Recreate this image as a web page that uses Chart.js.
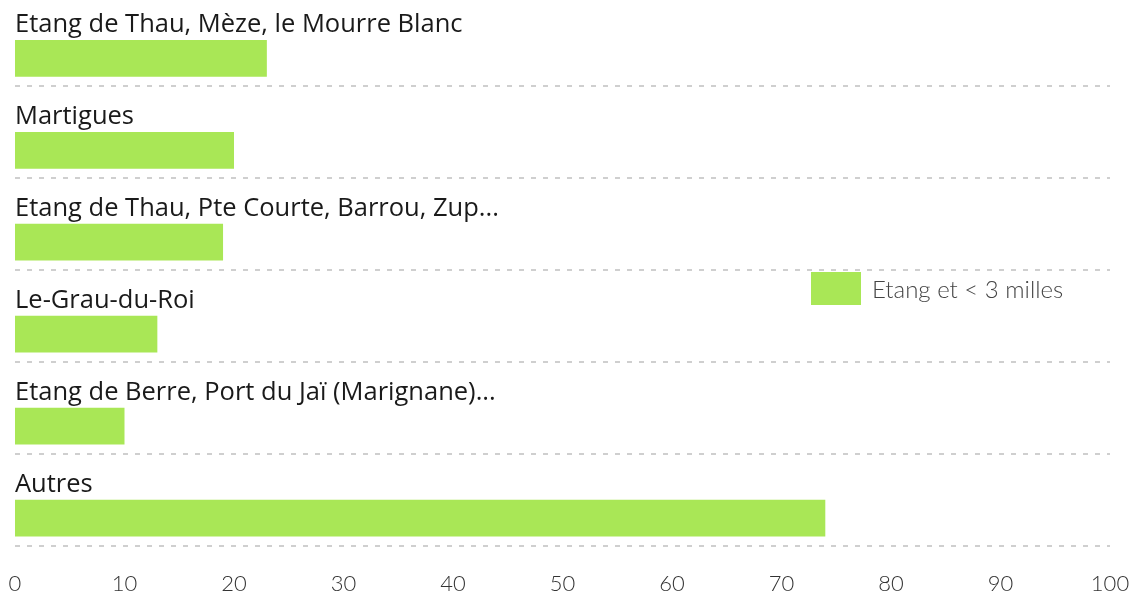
<!DOCTYPE html>
<html>
<head>
<meta charset="utf-8">
<script src="https://cdn.jsdelivr.net/npm/chart.js@4.4.0/dist/chart.umd.js"></script>
<style>
  html, body { margin: 0; padding: 0; background: #fff; overflow: hidden; }
  #wrap { width: 1130px; height: 595px; overflow: hidden; position: relative; }
  /* la bande du haut commence au-dessus du cadre */
  #chart { position: absolute; left: 0; top: -6px; }
</style>
</head>
<body>
<div id="wrap"><canvas id="chart" width="1130" height="603"></canvas></div>
<script>
// Données
const categories = [
  'Etang de Thau, Mèze, le Mourre Blanc',
  'Martigues',
  'Etang de Thau, Pte Courte, Barrou, Zup...',
  'Le-Grau-du-Roi',
  'Etang de Berre, Port du Jaï (Marignane)...',
  'Autres'
]
const seriesLabel = 'Etang et < 3 milles'
const seriesValues = [23, 20, 19, 13, 10, 74]
const spacerValues = [null, null, null, null, null, null]
const xTicks = [0, 10, 20, 30, 40, 50, 60, 70, 80, 90, 100]

const barColor = '#a9e756'
const labelFont = '"Open Sans", "Noto Sans", sans-serif'
const lightFont = 'Lato, "Open Sans", sans-serif'

// Pas de marge automatique autour des axes : on place la zone à la main
function noAutoPadding(axis) {
  axis.paddingLeft = 0
  axis.paddingRight = 0
  axis.paddingTop = 0
  axis.paddingBottom = 0
}

// Légende dessinée à la main (position libre au milieu à droite)
const sideLegend = {
  id: 'sideLegend',
  afterDatasetsDraw(chart) {
    const { ctx, chartArea } = chart
    const ds = chart.data.datasets[1]
    const x = chartArea.right - 299
    const yMid = chartArea.top + 295
    ctx.save()
    ctx.fillStyle = ds.backgroundColor
    ctx.fillRect(x, yMid - 17, 50, 33)
    ctx.fillStyle = '#444'
    ctx.font = '300 24px ' + lightFont
    ctx.textAlign = 'left'
    ctx.textBaseline = 'middle'
    ctx.fillText(ds.label, x + 61, yMid + 1)
    ctx.restore()
  }
}

new Chart(document.getElementById('chart'), {
  type: 'bar',
  data: {
    labels: categories,
    datasets: [
      { label: '', data: spacerValues, backgroundColor: 'transparent' },
      { label: seriesLabel, data: seriesValues, backgroundColor: barColor, borderWidth: 0 }
    ]
  },
  options: {
    indexAxis: 'y',
    responsive: false,
    animation: false,
    layout: { padding: { top: 0, left: 15, right: 20, bottom: 0 } },
    datasets: {
      bar: { categoryPercentage: 0.8, barPercentage: 1 }
    },
    plugins: {
      legend: { display: false },
      tooltip: { enabled: false }
    },
    scales: {
      x: {
        min: 0,
        max: 100,
        afterBuildTicks: axis => { axis.ticks = xTicks.map(v => ({ value: v })) },
        afterFit: noAutoPadding,
        grid: { display: false, drawTicks: true, tickLength: 25 },
        border: { display: false },
        ticks: {
          padding: 0,
          color: '#333',
          font: { family: lightFont, size: 22, weight: 300 }
        }
      },
      y: {
        offset: true,
        afterFit: noAutoPadding,
        grid: {
          offset: true,
          drawTicks: false,
          color: '#cfcfcf',
          lineWidth: 2
        },
        border: { display: false, dash: [5, 7] },
        ticks: {
          mirror: true,
          padding: 0,
          labelOffset: -15,
          color: '#1a1a1a',
          font: { family: labelFont, size: 25.5 }
        }
      }
    }
  },
  plugins: [sideLegend]
})
</script>
</body>
</html>
